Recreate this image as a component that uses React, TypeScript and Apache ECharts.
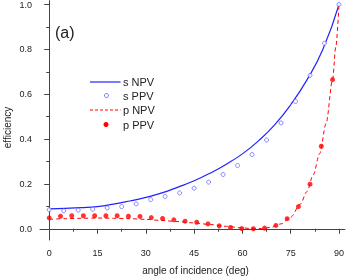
import React, { useEffect, useRef } from "react";
import * as echarts from "echarts";

// s-polarisation, NPV model (solid line)
const sNpvAngles = [0, 5, 10, 15, 20, 25, 30, 35, 40, 45, 50, 55, 60, 65, 70, 75, 80, 85, 90];
const sNpvValues = [0.089, 0.091, 0.094, 0.099, 0.11, 0.124, 0.14, 0.16, 0.186, 0.214, 0.248, 0.288, 0.334, 0.392, 0.463, 0.553, 0.663, 0.8, 1.0];

// s-polarisation, PPV model (open circles)
const sPpvAngles = [0, 4.5, 9, 13.5, 18, 22.5, 27, 31.5, 36, 40.5, 45, 49.5, 54, 58.5, 63, 67.5, 72, 76.5, 81, 85.5, 90];
const sPpvValues = [0.085, 0.08, 0.083, 0.087, 0.093, 0.099, 0.111, 0.13, 0.144, 0.16, 0.181, 0.208, 0.242, 0.282, 0.331, 0.396, 0.472, 0.568, 0.684, 0.827, 1.0];

// p-polarisation, NPV model (dashed line)
const pNpvAngles = [0, 5, 10, 15, 20, 25, 30, 35, 40, 45, 50, 55, 60, 63, 66, 69, 72, 75, 78, 80, 82, 84, 86, 88, 89, 90];
const pNpvValues = [0.042, 0.045, 0.047, 0.048, 0.047, 0.045, 0.042, 0.037, 0.032, 0.026, 0.019, 0.011, 0.004, 0.001, 0.001, 0.007, 0.022, 0.052, 0.11, 0.165, 0.24, 0.335, 0.47, 0.665, 0.81, 1.0];

// p-polarisation, PPV model (filled dots)
const pPpvAngles = [0, 3.5, 7, 10.6, 14.1, 17.6, 21.1, 24.6, 28.2, 31.7, 35.2, 38.7, 42.2, 45.8, 49.3, 52.8, 56.3, 59.8, 63.4, 66.9, 70.4, 73.9, 77.4, 81, 84.5, 88];
const pPpvValues = [0.049, 0.056, 0.058, 0.058, 0.058, 0.058, 0.058, 0.056, 0.055, 0.05, 0.046, 0.04, 0.034, 0.029, 0.022, 0.013, 0.006, 0.001, 0.0, 0.003, 0.015, 0.045, 0.099, 0.199, 0.368, 0.665];

const xMajorTicks = [0, 15, 30, 45, 60, 75, 90];
const xMinorTicks = [7.5, 22.5, 37.5, 52.5, 67.5, 82.5];
const yMajorTicks = [0, 0.2, 0.4, 0.6, 0.8, 1.0];
const yMinorTicks = [0.1, 0.3, 0.5, 0.7, 0.9];

const legendLabels = ["s NPV", "s PPV", "p NPV", "p PPV"];

const BLUE = "#2222ff";
const BLUE_LIGHT = "#5a5aff";
const RED = "#ff0000";
const AXIS = "#444";
const TEXT = "#222";
const FONT = "'Liberation Sans', Arial, sans-serif";

const zip = (a: number[], b: number[]) => a.map((v, i) => [v, b[i]]);

export default function App() {
  const ref = useRef<HTMLDivElement>(null);
  useEffect(() => {
    if (!ref.current) return;
    const chart = echarts.init(ref.current, null, { renderer: "svg" });
    const gridCfg = { left: 40, top: 0, width: 307, height: 240 };
    const xBase = { type: "value", min: -2.87, max: 91.85, gridIndex: 0, position: "bottom", splitLine: { show: false } };
    const yBase = { type: "value", min: -0.05, max: 1.017, gridIndex: 0, position: "left", splitLine: { show: false } };
    const ly = [82, 95.5, 110, 124.5];
    chart.setOption({
      animation: false,
      grid: gridCfg,
      xAxis: [
        {
          ...xBase,
          axisLine: { show: true, lineStyle: { color: AXIS, width: 1 } },
          axisTick: { show: true, inside: false, length: 5, customValues: xMajorTicks, lineStyle: { color: AXIS } },
          axisLabel: { show: true, customValues: xMajorTicks, margin: 8, fontSize: 9, color: TEXT, fontFamily: FONT },
        },
        {
          ...xBase,
          axisLine: { show: false },
          axisTick: { show: true, inside: false, length: 3, customValues: xMinorTicks, lineStyle: { color: AXIS } },
          axisLabel: { show: false },
        },
      ],
      yAxis: [
        {
          ...yBase,
          axisLine: { show: true, lineStyle: { color: AXIS, width: 1 } },
          axisTick: { show: true, inside: false, length: 5, customValues: yMajorTicks, lineStyle: { color: AXIS } },
          axisLabel: {
            show: true,
            customValues: yMajorTicks,
            margin: 8,
            fontSize: 9,
            color: TEXT,
            fontFamily: FONT,
            formatter: (v: number) => v.toFixed(1),
          },
        },
        {
          ...yBase,
          axisLine: { show: false },
          axisTick: { show: true, inside: false, length: 3, customValues: yMinorTicks, lineStyle: { color: AXIS } },
          axisLabel: { show: false },
        },
      ],
      series: [
        {
          name: legendLabels[0],
          type: "line",
          data: zip(sNpvAngles, sNpvValues),
          showSymbol: false,
          smooth: 0.5,
          lineStyle: { color: BLUE, width: 1.2 },
          z: 2,
        },
        {
          name: legendLabels[1],
          type: "scatter",
          data: zip(sPpvAngles, sPpvValues),
          symbol: "circle",
          symbolSize: 4,
          itemStyle: { color: "#ffffff", borderColor: BLUE_LIGHT, borderWidth: 0.9 },
          z: 3,
        },
        {
          name: legendLabels[2],
          type: "line",
          data: zip(pNpvAngles, pNpvValues),
          showSymbol: false,
          smooth: 0.3,
          smoothMonotone: "x",
          lineStyle: { color: RED, width: 1, type: [4, 3] },
          z: 2,
        },
        {
          name: legendLabels[3],
          type: "scatter",
          data: zip(pPpvAngles, pPpvValues),
          symbol: "circle",
          symbolSize: 5,
          itemStyle: { color: RED },
          z: 3,
        },
      ],
      graphic: [
        { type: "text", left: 55, top: 24, style: { text: "(a)", fontSize: 16, fill: TEXT, fontFamily: FONT } },
        {
          type: "text",
          x: 195.5,
          y: 270.5,
          style: { text: "angle of incidence (deg)", fontSize: 10, fill: TEXT, fontFamily: FONT, align: "center", verticalAlign: "middle" },
        },
        {
          type: "text",
          x: 7,
          y: 127.5,
          rotation: Math.PI / 2,
          style: { text: "efficiency", fontSize: 10, fill: TEXT, fontFamily: FONT, align: "center", verticalAlign: "middle" },
        },
        { type: "line", shape: { x1: 90, y1: ly[0], x2: 120.5, y2: ly[0] }, style: { stroke: BLUE, lineWidth: 1.2 } },
        { type: "circle", shape: { cx: 106.5, cy: ly[1], r: 2 }, style: { fill: "#fff", stroke: BLUE_LIGHT, lineWidth: 0.9 } },
        { type: "line", shape: { x1: 90, y1: ly[2], x2: 120.5, y2: ly[2] }, style: { stroke: RED, lineWidth: 1, lineDash: [3, 2] } },
        { type: "circle", shape: { cx: 106, cy: ly[3], r: 2.5 }, style: { fill: RED } },
        ...legendLabels.map((t, i) => ({
          type: "text",
          x: 123,
          y: ly[i],
          style: { text: t, fontSize: 11, fill: TEXT, fontFamily: FONT, align: "left", verticalAlign: "middle" },
        })),
      ],
    });
    return () => chart.dispose();
  }, []);
  return <div ref={ref} style={{ position: "fixed", left: 0, top: 0, width: 347, height: 277 }} />;
}
